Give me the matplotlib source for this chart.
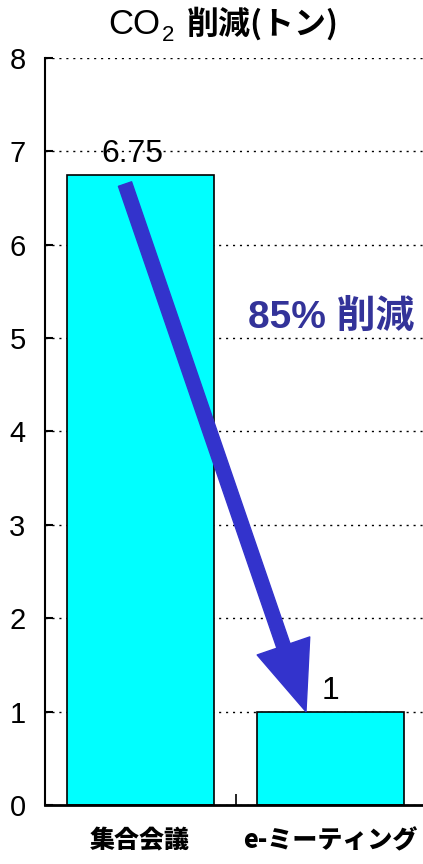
import matplotlib
matplotlib.use('Agg')
import matplotlib.pyplot as plt
from matplotlib.patches import FancyArrowPatch

plt.rcParams['font.family'] = ['Liberation Sans', 'Noto Sans CJK JP', 'DejaVu Sans']

categories = ['集合会議', 'e-ミーティング']
co2_tons = [6.75, 1]
value_labels = ['6.75', '1']
reduction_text = '85% 削減'

fig = plt.figure(figsize=(4.23, 8.64), dpi=100)
ax = fig.add_axes([45 / 423, (864 - 805) / 864, 381 / 423, (805 - 58) / 864])

x = range(len(categories))
ax.bar(x, co2_tons, width=0.77, color='#00FFFF', edgecolor='black', linewidth=1.2, zorder=2)
ax.set_xlim(-0.5, 1.5)
ax.set_ylim(0, 8)
ax.set_yticks(range(0, 9))
ax.yaxis.grid(True, linestyle=(0, (1.5, 3.5)), color='black', linewidth=1.0, zorder=1)
ax.set_axisbelow(True)

for s in ['top', 'right']:
    ax.spines[s].set_visible(False)
ax.spines['left'].set_linewidth(1.5)
ax.spines['bottom'].set_linewidth(2.0)

ax.tick_params(axis='y', direction='in', length=6, width=1.5, labelsize=21, pad=14)
ax.set_xticks([0.5])
ax.set_xticklabels([''])
ax.tick_params(axis='x', direction='in', length=8, width=1.2)

for i, cat in enumerate(categories):
    ax.text(i, -0.24, cat, ha='center', va='top', fontsize=18, fontweight='heavy',
            family=['Noto Sans CJK JP', 'DejaVu Sans'])

ax.text(0 - 0.04, co2_tons[0] + 0.06, value_labels[0], ha='center', va='bottom', fontsize=23)
ax.text(1, co2_tons[1] + 0.06, value_labels[1], ha='center', va='bottom', fontsize=23)

arrow = FancyArrowPatch((-0.08, 6.65), (0.87, 1.0),
                        arrowstyle='simple,head_length=2.5,head_width=2.0,tail_width=0.5',
                        mutation_scale=20, color='#3333CC', zorder=3, shrinkA=0, shrinkB=0)
ax.add_patch(arrow)

ax.text(1.0, 5.22, reduction_text, ha='center', va='center', fontsize=28, fontweight='bold',
        color='#333399', family=['Liberation Sans', 'Noto Sans CJK JP'])

# title: CO + subscript 2 + Japanese part
ty = 1 - 34 / 864
fig.text(160 / 423, ty, 'CO', ha='right', va='baseline', fontsize=25,
         family=['Liberation Sans'])
fig.text(162 / 423, ty - 7 / 864, '2', ha='left', va='baseline', fontsize=16,
         family=['Liberation Sans'])
fig.text(187 / 423, ty, '削減(トン)', ha='left', va='baseline', fontsize=23, fontweight='bold',
         family=['Noto Sans CJK JP', 'DejaVu Sans'])

fig.savefig('out.png', dpi=100)
